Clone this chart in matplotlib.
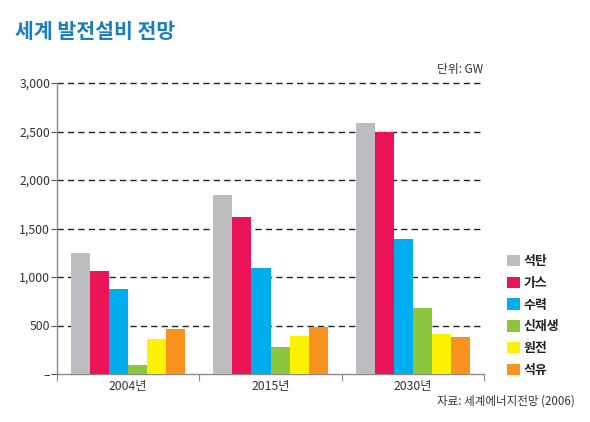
import matplotlib
matplotlib.use("Agg")
import matplotlib.pyplot as plt
import numpy as np
from matplotlib.patches import Patch

plt.rcParams['font.family'] = ['Noto Sans CJK KR', 'DejaVu Sans']

categories = ["2004년", "2015년", "2030년"]
series_names = ["석탄", "가스", "수력", "신재생", "원전", "석유"]
coal = [1250, 1845, 2587]
gas = [1065, 1618, 2500]
hydro = [873, 1095, 1391]
renew = [96, 281, 683]
nuclear = [358, 395, 412]
oil = [461, 487, 378]
series_values = [coal, gas, hydro, renew, nuclear, oil]
colors = ["#bcbdc0", "#ec1458", "#00adef", "#8cc63f", "#fff200", "#f7931e"]
yticks = [0, 500, 1000, 1500, 2000, 2500, 3000]
ytick_labels = ["–", "500", "1,000", "1,500", "2,000", "2,500", "3,000"]

W, H = 590, 422
fig = plt.figure(figsize=(W / 100, H / 100), dpi=100)
left, right, top, bottom = 57, 484, 83, 374
ax = fig.add_axes([left / W, 1 - bottom / H, (right - left) / W, (bottom - top) / H])

x = np.arange(len(categories))
bw = 0.134
for j, (vals, c) in enumerate(zip(series_values, colors)):
    ax.bar(x + (j - 2.5) * bw, vals, width=bw, color=c, edgecolor='none', zorder=3)

ax.set_xlim(-0.5, 2.5)
ax.set_ylim(0, 3000)
for v in yticks[1:]:
    ax.axhline(v, color='#222222', lw=1.0, ls=(0, (4.5, 3)), zorder=2, clip_on=False)

for s in ['top', 'right']:
    ax.spines[s].set_visible(False)
for s in ['left', 'bottom']:
    ax.spines[s].set_color('#8a8a8a')
    ax.spines[s].set_linewidth(1.0)

ax.set_yticks(yticks)
ax.set_yticklabels(ytick_labels, fontsize=8.8, color='#333333')
ax.tick_params(axis='y', length=4, width=0.8, color='#555555', pad=1)

ax.set_xticks(x)
ax.set_xticklabels(categories, fontsize=8.8, color='#333333')
ax.tick_params(axis='x', which='major', length=0, pad=4)
ax.set_xticks([-0.5, 0.5, 1.5, 2.5], minor=True)
ax.tick_params(axis='x', which='minor', length=5, width=0.8, color='#8a8a8a')

fig.text(15 / W, 1 - 32 / H, "세계 발전설비 전망", fontsize=14.8, fontweight='bold',
         color='#1d7dc1', va='center', ha='left')
fig.text(483 / W, 1 - 70 / H, "단위: GW", fontsize=8.5, color='#333333', ha='right', va='center')
fig.text(575 / W, 1 - 401 / H, "자료: 세계에너지전망 (2006)", fontsize=8.3, color='#333333',
         ha='right', va='center')

handles = [Patch(facecolor=c, edgecolor='none') for c in colors]
leg = fig.legend(handles, series_names, loc='upper left', bbox_to_anchor=(507 / W, 1 - 254 / H),
                 frameon=False, prop={'weight': 'bold', 'size': 9.3}, handlelength=1.0,
                 handleheight=1.0, labelspacing=0.6, handletextpad=0.3, borderaxespad=0,
                 borderpad=0)
for t in leg.get_texts():
    t.set_color('#222222')

fig.savefig("out.png", dpi=100)
